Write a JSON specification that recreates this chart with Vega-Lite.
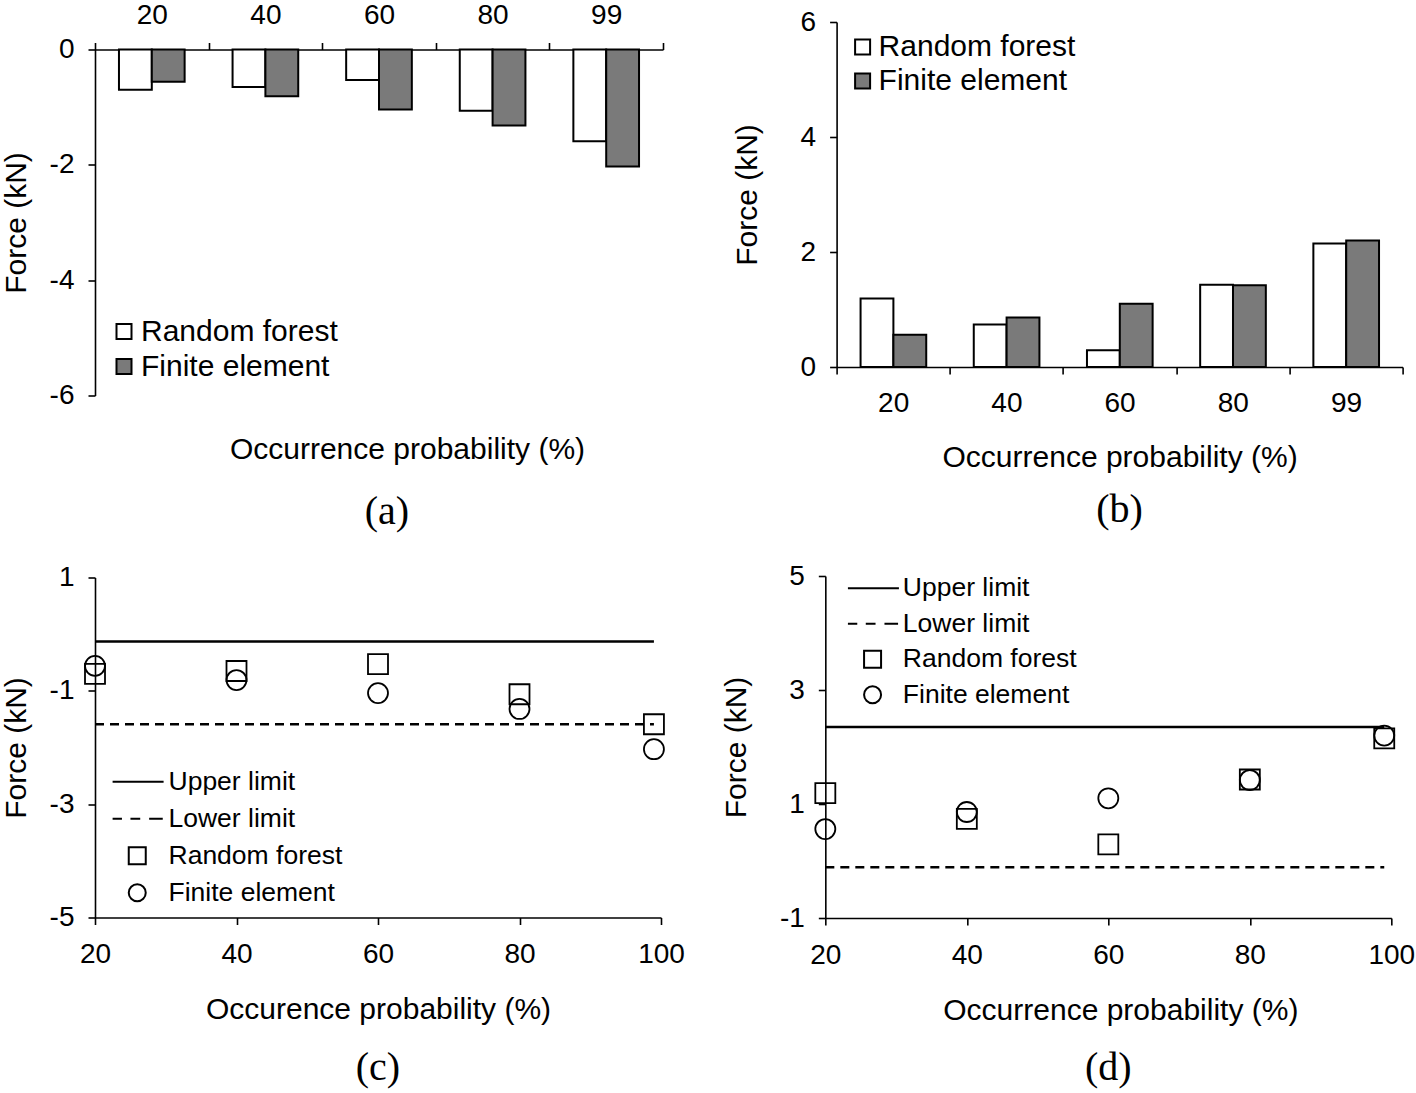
{
  "$schema": "https://vega.github.io/schema/vega-lite/v6.json",
  "background": "white",
  "padding": {"left": 1, "top": 1, "right": 0, "bottom": 0},
  "config": {
    "font": "Liberation Sans",
    "view": {"stroke": null},
    "axis": {"labelFont": "Liberation Sans", "titleFont": "Liberation Sans", "labelFontSize": 28, "titleFontSize": 30, "titleFontWeight": "normal", "labelColor": "black", "titleColor": "black", "domainColor": "black", "tickColor": "black", "domainWidth": 1.6, "tickWidth": 1.6, "tickSize": 7, "labelPadding": 14, "grid": false, "labelFlush": false, "labelOverlap": false, "labelBound": false},
    "legend": {"labelFont": "Liberation Sans", "labelColor": "black", "padding": 0, "orient": "none", "labelLimit": 0},
    "title": {"font": "Liberation Serif", "fontWeight": "normal", "color": "black", "fontSize": 40, "anchor": "middle", "frame": "group", "orient": "bottom"}
  },
  "datasets": {
    "neg": [
      {"prob": 20, "method": "Random forest", "force": -0.70},
      {"prob": 20, "method": "Finite element", "force": -0.56},
      {"prob": 40, "method": "Random forest", "force": -0.65},
      {"prob": 40, "method": "Finite element", "force": -0.81},
      {"prob": 60, "method": "Random forest", "force": -0.53},
      {"prob": 60, "method": "Finite element", "force": -1.04},
      {"prob": 80, "method": "Random forest", "force": -1.06},
      {"prob": 80, "method": "Finite element", "force": -1.32},
      {"prob": 99, "method": "Random forest", "force": -1.59},
      {"prob": 99, "method": "Finite element", "force": -2.03}
    ],
    "pos": [
      {"prob": 20, "method": "Random forest", "force": 1.19},
      {"prob": 20, "method": "Finite element", "force": 0.56},
      {"prob": 40, "method": "Random forest", "force": 0.74},
      {"prob": 40, "method": "Finite element", "force": 0.86},
      {"prob": 60, "method": "Random forest", "force": 0.29},
      {"prob": 60, "method": "Finite element", "force": 1.10},
      {"prob": 80, "method": "Random forest", "force": 1.43},
      {"prob": 80, "method": "Finite element", "force": 1.42},
      {"prob": 99, "method": "Random forest", "force": 2.15},
      {"prob": 99, "method": "Finite element", "force": 2.20}
    ],
    "limits_c": [
      {"series": "Upper limit", "prob": 20, "force": -0.13},
      {"series": "Upper limit", "prob": 99, "force": -0.13},
      {"series": "Lower limit", "prob": 20, "force": -1.59},
      {"series": "Lower limit", "prob": 99, "force": -1.59}
    ],
    "limits_d": [
      {"series": "Upper limit", "prob": 20, "force": 2.35},
      {"series": "Upper limit", "prob": 99, "force": 2.35},
      {"series": "Lower limit", "prob": 20, "force": -0.11},
      {"series": "Lower limit", "prob": 99, "force": -0.11}
    ]
  },
  "resolve": {"scale": {"fill": "independent", "shape": "independent", "strokeDash": "independent"}, "legend": {"fill": "independent", "shape": "independent", "strokeDash": "independent"}},
  "spacing": 36,
  "center": true,
  "hconcat": [
    {
      "spacing": 32,
      "resolve": {"scale": {"fill": "independent", "shape": "independent", "strokeDash": "independent"}, "legend": {"fill": "independent", "shape": "independent", "strokeDash": "independent"}},
      "vconcat": [
        {
          "width": 568, "height": 346,
          "title": {"text": "(a)", "offset": 27, "dx": 8},
          "data": {"name": "neg"},
          "mark": {"type": "bar", "stroke": "black", "strokeWidth": 2},
          "encoding": {
            "x": {"field": "prob", "type": "ordinal", "scale": {"paddingInner": 0, "paddingOuter": 0},
                  "axis": {"orient": "top", "title": "Occurrence probability (%)", "titleX": 312, "titleY": 400, "titleBaseline": "middle", "labelAngle": 0, "tickBand": "extent", "labelPadding": 13}},
            "xOffset": {"field": "method", "sort": ["Random forest", "Finite element"], "scale": {"paddingOuter": 0.73, "paddingInner": 0}},
            "y": {"field": "force", "type": "quantitative", "scale": {"domain": [-6, 0], "nice": false},
                  "axis": {"values": [0, -2, -4, -6], "labelExpr": "(datum.value < 0 ? '-' : '') + abs(datum.value)", "title": "Force (kN)", "titlePadding": 18}},
            "fill": {"field": "method", "type": "nominal", "scale": {"domain": ["Random forest", "Finite element"], "range": ["white", "#7a7a7a"]},
                     "legend": {"title": null, "orient": "none", "legendX": 14, "legendY": 267, "symbolType": "square", "symbolSize": 225, "symbolStrokeColor": "black", "symbolStrokeWidth": 2, "labelFontSize": 30, "labelOffset": 2, "rowPadding": 5}}
          }
        },
        {
          "width": 566, "height": 340,
          "title": {"text": "(c)", "offset": 23},
          "layer": [
            {
              "data": {"name": "limits_c"},
              "mark": {"type": "line", "color": "black", "strokeWidth": 2.5},
              "encoding": {
                "x": {"field": "prob", "type": "quantitative", "scale": {"domain": [20, 100], "nice": false, "zero": false},
                      "axis": {"values": [20, 40, 60, 80, 100], "title": "Occurence probability (%)", "titlePadding": 26, "labelPadding": 16}},
                "y": {"field": "force", "type": "quantitative", "scale": {"domain": [-5, 1], "nice": false, "zero": false},
                      "axis": {"values": [1, -1, -3, -5], "labelExpr": "(datum.value < 0 ? '-' : '') + abs(datum.value)", "title": "Force (kN)", "titlePadding": 18}},
                "strokeDash": {"field": "series", "type": "nominal", "scale": {"domain": ["Upper limit", "Lower limit"], "range": [[1, 0], [9, 6]]}, "legend": null}
              }
            },
            {
              "data": {"name": "neg"},
              "mark": {"type": "point", "filled": false, "color": "black", "opacity": 1, "strokeWidth": 1.8, "size": 400},
              "encoding": {
                "x": {"field": "prob", "type": "quantitative"},
                "y": {"field": "force", "type": "quantitative"},
                "shape": {"field": "method", "type": "nominal",
                          "scale": {"domain": ["Upper limit", "Lower limit", "Random forest", "Finite element"], "range": ["M-2.9,0H3.1", "M-2.9,0H-1.8M-0.8,0H0.35M1.4,0H3.0", "square", "circle"]},
                          "legend": {"title": null, "orient": "none", "legendX": 29, "legendY": 191, "symbolSize": 289, "symbolStrokeWidth": 2, "symbolStrokeColor": "black", "symbolOpacity": 1, "labelFontSize": 26.5, "labelOffset": 18, "rowPadding": 10}}
              }
            }
          ]
        }
      ]
    },
    {
      "spacing": 32,
      "center": true,
      "resolve": {"scale": {"fill": "independent", "shape": "independent", "strokeDash": "independent"}, "legend": {"fill": "independent", "shape": "independent", "strokeDash": "independent"}},
      "vconcat": [
        {
          "width": 566, "height": 345,
          "title": {"text": "(b)", "offset": 18},
          "data": {"name": "pos"},
          "mark": {"type": "bar", "stroke": "black", "strokeWidth": 2},
          "encoding": {
            "x": {"field": "prob", "type": "ordinal", "scale": {"paddingInner": 0, "paddingOuter": 0},
                  "axis": {"title": "Occurrence probability (%)", "labelAngle": 0, "tickBand": "extent", "labelPadding": 15, "titlePadding": 25}},
            "xOffset": {"field": "method", "sort": ["Random forest", "Finite element"], "scale": {"paddingOuter": 0.73, "paddingInner": 0}},
            "y": {"field": "force", "type": "quantitative", "scale": {"domain": [0, 6], "nice": false}, "axis": {"values": [0, 2, 4, 6], "title": "Force (kN)", "titlePadding": 38}},
            "fill": {"field": "method", "type": "nominal", "scale": {"domain": ["Random forest", "Finite element"], "range": ["white", "#7a7a7a"]},
                     "legend": {"title": null, "orient": "none", "legendX": 11, "legendY": 10, "symbolType": "square", "symbolSize": 225, "symbolStrokeColor": "black", "symbolStrokeWidth": 2, "labelFontSize": 30, "labelOffset": 1, "rowPadding": 4}}
          }
        },
        {
          "width": 566, "height": 342,
          "title": {"text": "(d)", "offset": 23, "subtitle": " ", "subtitleFontSize": 10, "subtitlePadding": 17},
          "layer": [
            {
              "data": {"name": "limits_d"},
              "mark": {"type": "line", "color": "black", "strokeWidth": 2.5},
              "encoding": {
                "x": {"field": "prob", "type": "quantitative", "scale": {"domain": [20, 100], "nice": false, "zero": false},
                      "axis": {"values": [20, 40, 60, 80, 100], "title": "Occurrence probability (%)", "titleX": 295, "titlePadding": 26, "labelPadding": 16}},
                "y": {"field": "force", "type": "quantitative", "scale": {"domain": [-1, 5], "nice": false, "zero": false},
                      "axis": {"values": [5, 3, 1, -1], "labelExpr": "(datum.value < 0 ? '-' : '') + abs(datum.value)", "title": "Force (kN)", "titlePadding": 28}},
                "strokeDash": {"field": "series", "type": "nominal", "scale": {"domain": ["Upper limit", "Lower limit"], "range": [[1, 0], [9, 6]]}, "legend": null}
              }
            },
            {
              "data": {"name": "pos"},
              "mark": {"type": "point", "filled": false, "color": "black", "opacity": 1, "strokeWidth": 1.8, "size": 400},
              "encoding": {
                "x": {"field": "prob", "type": "quantitative"},
                "y": {"field": "force", "type": "quantitative"},
                "shape": {"field": "method", "type": "nominal",
                          "scale": {"domain": ["Upper limit", "Lower limit", "Random forest", "Finite element"], "range": ["M-2.9,0H3.1", "M-2.9,0H-1.8M-0.8,0H0.35M1.4,0H3.0", "square", "circle"]},
                          "legend": {"title": null, "orient": "none", "legendX": 34, "legendY": -1, "symbolSize": 289, "symbolStrokeWidth": 2, "symbolStrokeColor": "black", "symbolOpacity": 1, "labelFontSize": 26.5, "labelOffset": 17, "rowPadding": 8.5}}
              }
            }
          ]
        }
      ]
    }
  ]
}
